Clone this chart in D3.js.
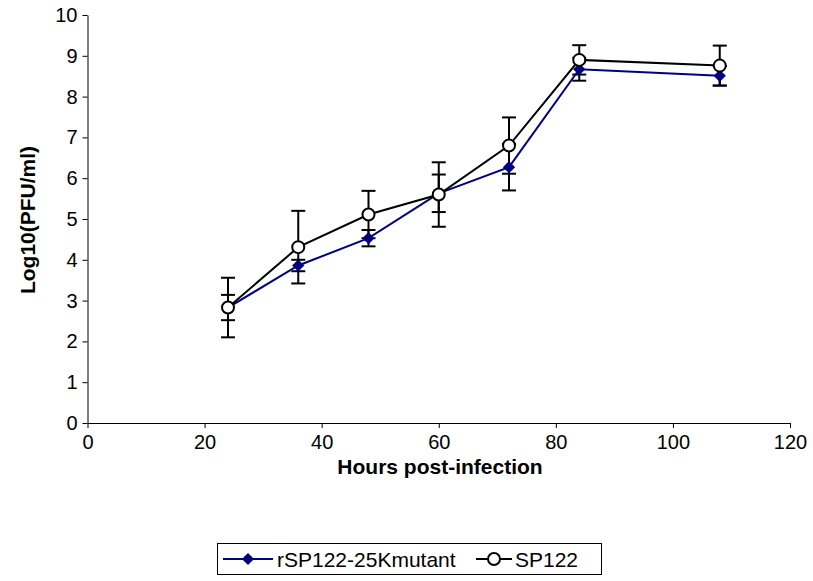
<!DOCTYPE html>
<html><head><meta charset="utf-8">
<script src="https://cdn.jsdelivr.net/npm/d3@7"></script>
<style>body{margin:0;background:#fff}svg{display:block}text{font-family:"Liberation Sans",Arial,sans-serif}</style>
</head><body>
<script>
const hours = [24, 36, 48, 60, 72, 84, 108];
const mutantValues = [2.83, 3.86, 4.53, 5.63, 6.27, 8.67, 8.51];
const mutantErrors = [0.31, 0.14, 0.20, 0.46, 0.57, 0.28, 0.24];
const wildValues = [2.83, 4.31, 5.11, 5.60, 6.80, 8.90, 8.76];
const wildErrors = [0.73, 0.89, 0.58, 0.79, 0.69, 0.36, 0.49];
const xTicks = [0, 20, 40, 60, 80, 100, 120];
const yTicks = [0, 1, 2, 3, 4, 5, 6, 7, 8, 9, 10];
const seriesNames = ["rSP122-25Kmutant", "SP122"];

const W = 813, H = 581;
const svg = d3.select("body").append("svg").attr("width", W).attr("height", H);
const x = d3.scaleLinear().domain([0, 120]).range([87.5, 790]);
const y = d3.scaleLinear().domain([0, 10]).range([423, 15]);

const xAxis = svg.append("g").attr("transform", `translate(0,${y(0)})`)
  .call(d3.axisBottom(x).tickValues(xTicks).tickSize(5).tickPadding(7).tickSizeOuter(0));
const yAxis = svg.append("g").attr("transform", `translate(${x(0)},0)`)
  .call(d3.axisLeft(y).tickValues(yTicks).tickSize(5).tickPadding(5).tickSizeOuter(0));
[xAxis, yAxis].forEach(g => {
  g.select(".domain").attr("stroke", "#000").attr("stroke-width", 1);
  g.selectAll(".tick line").attr("stroke", "#000");
  g.selectAll("text").attr("font-size", 20).attr("fill", "#000")
    .style("font-family", '"Liberation Sans",Arial,sans-serif');
});

svg.append("text").attr("x", 440).attr("y", 474).attr("text-anchor", "middle")
  .attr("font-size", 21).attr("font-weight", "bold").text("Hours post-infection");
svg.append("text").attr("transform", "translate(35,220) rotate(-90)").attr("text-anchor", "middle")
  .attr("font-size", 21).attr("font-weight", "bold").text("Log10(PFU/ml)");

const series = [
  {vals: mutantValues, errs: mutantErrors, color: "#000080", marker: "diamond"},
  {vals: wildValues, errs: wildErrors, color: "#000000", marker: "circle"}
];

// error bars
const cap = 7;
series.forEach(s => {
  const g = svg.append("g");
  hours.forEach((h, i) => {
    const cx = x(h), hi = y(s.vals[i] + s.errs[i]), lo = y(s.vals[i] - s.errs[i]);
    g.append("line").attr("x1", cx).attr("x2", cx).attr("y1", hi).attr("y2", lo).attr("stroke", "#000").attr("stroke-width", 2);
    g.append("line").attr("x1", cx - cap).attr("x2", cx + cap).attr("y1", hi).attr("y2", hi).attr("stroke", "#000").attr("stroke-width", 2);
    g.append("line").attr("x1", cx - cap).attr("x2", cx + cap).attr("y1", lo).attr("y2", lo).attr("stroke", "#000").attr("stroke-width", 2);
  });
});

const line = d3.line().x((d, i) => x(hours[i])).y(d => y(d));
series.forEach(s => {
  svg.append("path").datum(s.vals).attr("d", line).attr("fill", "none")
    .attr("stroke", s.color).attr("stroke-width", 2);
});
const diamond = d3.symbol().type(d3.symbolDiamond2).size(95);
function drawMarker(g, s, cx, cy) {
  if (s.marker === "diamond") {
    g.append("path").attr("d", diamond()).attr("transform", `translate(${cx},${cy})`).attr("fill", s.color);
  } else {
    g.append("circle").attr("cx", cx).attr("cy", cy).attr("r", 6).attr("fill", "#fff").attr("stroke", "#000").attr("stroke-width", 2);
  }
}
series.forEach(s => {
  const g = svg.append("g");
  hours.forEach((h, i) => drawMarker(g, s, x(h), y(s.vals[i])));
});

// legend
const lg = svg.append("g");
lg.append("rect").attr("x", 217.5).attr("y", 543.5).attr("width", 384).attr("height", 31)
  .attr("fill", "#fff").attr("stroke", "#000").attr("stroke-width", 1);
const items = [
  {s: series[0], x1: 223, x2: 273, tx: 277},
  {s: series[1], x1: 476, x2: 512, tx: 515}
];
items.forEach((it, k) => {
  const ly = 559;
  lg.append("line").attr("x1", it.x1).attr("x2", it.x2).attr("y1", ly).attr("y2", ly)
    .attr("stroke", it.s.color).attr("stroke-width", 2);
  drawMarker(lg, it.s, (it.x1 + it.x2) / 2, ly);
  lg.append("text").attr("x", it.tx).attr("y", ly + 7.5).attr("font-size", 21).text(seriesNames[k]);
});
</script>
</body></html>
